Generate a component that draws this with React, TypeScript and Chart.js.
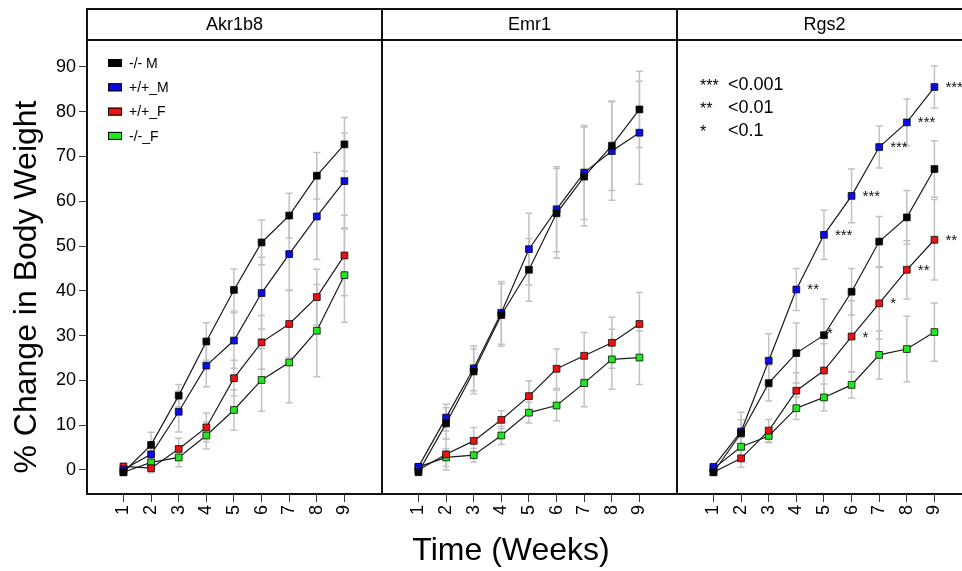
import React, { useEffect, useRef } from "react";
import { Chart, registerables } from "chart.js";

Chart.register(...registerables);

const FONT = '"Liberation Sans", Arial, Helvetica, sans-serif';

// ---------- data ----------
const weeks = [1, 2, 3, 4, 5, 6, 7, 8, 9];
const yTickValues = [0, 10, 20, 30, 40, 50, 60, 70, 80, 90];
const panelTitles = ["Akr1b8", "Emr1", "Rgs2"];
const seriesLabels = ["-/- M", "+/+_M", "+/+_F", "-/-_F"];
const seriesColors = ["#050505", "#0c0ce8", "#e81414", "#22e622"];

// Akr1b8
const akrKoM = [-0.5, 5.6, 16.6, 28.7, 40.2, 50.8, 56.8, 65.7, 72.7];
const akrKoMErr = [0.5, 2.8, 2.5, 4.2, 4.7, 5.0, 5.0, 5.2, 6.0];
const akrWtM = [0.1, 3.5, 13.0, 23.3, 28.9, 39.5, 48.2, 56.6, 64.5];
const akrWtMErr = [0.5, 1.5, 4.5, 4.7, 6.2, 8.0, 8.0, 9.6, 10.7];
const akrWtF = [0.8, 0.4, 4.7, 9.5, 20.5, 28.5, 32.6, 38.6, 47.9];
const akrWtFErr = [0.5, 1.0, 2.4, 3.2, 4.0, 6.0, 7.5, 6.2, 9.0];
const akrKoF = [-0.5, 1.7, 2.8, 7.7, 13.4, 20.1, 24.0, 31.1, 43.5];
const akrKoFErr = [0.5, 1.5, 2.1, 3.0, 4.5, 7.0, 9.0, 10.3, 10.5];

// Emr1
const emrKoM = [-0.5, 10.4, 22.0, 34.6, 44.7, 57.3, 65.5, 72.4, 80.5];
const emrKoMErr = [0.5, 3.5, 5.0, 7.0, 7.0, 10.0, 11.0, 10.0, 8.5];
const emrWtM = [0.7, 11.7, 22.7, 35.1, 49.3, 58.2, 66.4, 71.2, 75.3];
const emrWtMErr = [0.5, 3.0, 5.0, 7.0, 8.0, 9.5, 10.5, 11.0, 11.5];
const emrWtF = [0.0, 3.5, 6.5, 11.2, 16.5, 22.6, 25.5, 28.4, 32.6];
const emrWtFErr = [0.5, 3.5, 3.0, 2.0, 3.4, 4.4, 5.2, 5.7, 7.0];
const emrKoF = [0.7, 2.8, 3.3, 7.7, 12.8, 14.4, 19.4, 24.7, 25.1];
const emrKoFErr = [0.5, 2.0, 1.5, 2.0, 2.3, 3.4, 5.3, 6.7, 6.0];

// Rgs2
const rgsKoM = [-0.5, 8.2, 19.4, 26.1, 30.1, 39.8, 51.0, 56.4, 67.2];
const rgsKoMErr = [0.5, 3.0, 4.0, 6.7, 8.0, 5.2, 5.6, 6.0, 6.3];
const rgsWtM = [0.7, 8.6, 24.4, 40.3, 52.5, 61.2, 72.1, 77.6, 85.5];
const rgsWtMErr = [0.5, 4.3, 6.0, 4.7, 5.5, 6.0, 4.7, 5.2, 4.7];
const rgsWtF = [-0.5, 2.6, 8.8, 17.7, 22.2, 29.8, 37.2, 44.7, 51.4];
const rgsWtFErr = [0.5, 2.0, 2.5, 4.0, 6.0, 8.0, 8.0, 6.5, 9.0];
const rgsKoF = [0.3, 5.2, 7.6, 13.8, 16.2, 19.0, 25.7, 27.0, 30.8];
const rgsKoFErr = [0.5, 2.0, 1.5, 2.5, 3.0, 3.0, 5.4, 7.3, 6.5];

const rgsKoMStars = ["", "", "", "", "*", "", "", "", ""];
const rgsWtMStars = ["", "", "", "**", "***", "***", "***", "***", "***"];
const rgsWtFStars = ["", "", "", "", "", "*", "*", "**", "**"];
const rgsKoFStars = ["", "", "", "", "", "", "", "", ""];

const sigStars = ["***", "**", "*"];
const sigLabels = ["<0.001", "<0.01", "<0.1"];

const xTitle = "Time (Weeks)";
const yTitle = "% Change in Body Weight";

// ---------- panels ----------
const panelValues = [
  [akrKoM, akrWtM, akrWtF, akrKoF],
  [emrKoM, emrWtM, emrWtF, emrKoF],
  [rgsKoM, rgsWtM, rgsWtF, rgsKoF],
];
const panelErrors = [
  [akrKoMErr, akrWtMErr, akrWtFErr, akrKoFErr],
  [emrKoMErr, emrWtMErr, emrWtFErr, emrKoFErr],
  [rgsKoMErr, rgsWtMErr, rgsWtFErr, rgsKoFErr],
];
const panelStars: (string[][] | null)[] = [
  null,
  null,
  [rgsKoMStars, rgsWtMStars, rgsWtFStars, rgsKoFStars],
];

const CANVAS_W = 980;
const CANVAS_H = 571;
const PANEL_EDGES = [87, 382, 677, 972];
const PLOT_TOP = 40;
const PLOT_BOTTOM = 494;
const HEADER_TOP = 9;

const errorBarsPlugin = {
  id: "errorBars",
  beforeDatasetsDraw(chart: any) {
    const ctx = chart.ctx;
    const yScale = chart.scales.y;
    ctx.save();
    ctx.strokeStyle = "#c2c2c2";
    ctx.lineWidth = 1.5;
    chart.data.datasets.forEach((ds: any, i: number) => {
      const meta = chart.getDatasetMeta(i);
      if (!ds.errors) return;
      meta.data.forEach((pt: any, j: number) => {
        const v = ds.data[j].y;
        const e = ds.errors[j];
        const top = yScale.getPixelForValue(v + e);
        const bot = yScale.getPixelForValue(v - e);
        const x = pt.x;
        ctx.beginPath();
        ctx.moveTo(x, top);
        ctx.lineTo(x, bot);
        ctx.moveTo(x - 3.5, top);
        ctx.lineTo(x + 3.5, top);
        ctx.moveTo(x - 3.5, bot);
        ctx.lineTo(x + 3.5, bot);
        ctx.stroke();
      });
    });
    ctx.restore();
  },
};

const starsPlugin = {
  id: "stars",
  afterDatasetsDraw(chart: any) {
    const ctx = chart.ctx;
    ctx.save();
    ctx.fillStyle = "#111";
    ctx.font = `15px ${FONT}`;
    ctx.textAlign = "left";
    ctx.textBaseline = "alphabetic";
    chart.data.datasets.forEach((ds: any, i: number) => {
      if (!ds.stars) return;
      const meta = chart.getDatasetMeta(i);
      meta.data.forEach((pt: any, j: number) => {
        const s = ds.stars[j];
        if (!s) return;
        ctx.fillText(s, pt.x + ds.starDx, pt.y + ds.starDy);
      });
    });
    ctx.restore();
  },
};

const framePlugin = {
  id: "frame",
  afterDraw(chart: any, _args: any, opts: any) {
    const ctx = chart.ctx;
    const a = chart.chartArea;
    ctx.save();
    ctx.strokeStyle = "#111";
    ctx.lineWidth = 2;
    ctx.strokeRect(a.left, a.top, a.right - a.left, a.bottom - a.top);
    ctx.strokeRect(a.left, HEADER_TOP, a.right - a.left, a.top - HEADER_TOP);
    ctx.fillStyle = "#000";
    ctx.font = `18px ${FONT}`;
    ctx.textAlign = "center";
    ctx.textBaseline = "middle";
    ctx.fillText(opts.title, (a.left + a.right) / 2, (HEADER_TOP + a.top) / 2 + 1);
    ctx.restore();
  },
};

const seriesKeyPlugin = {
  id: "seriesKey",
  afterDraw(chart: any) {
    const ctx = chart.ctx;
    const a = chart.chartArea;
    ctx.save();
    ctx.font = `14px ${FONT}`;
    ctx.textAlign = "left";
    ctx.textBaseline = "middle";
    chart.data.datasets.forEach((ds: any, i: number) => {
      const cy = a.top + 23 + i * 24.3;
      const bx = a.left + 21;
      ctx.fillStyle = ds.pointBackgroundColor;
      ctx.fillRect(bx, cy - 4, 14, 8);
      ctx.strokeStyle = "#000";
      ctx.lineWidth = 1;
      ctx.strokeRect(bx + 0.5, cy - 3.5, 13, 7);
      ctx.fillStyle = "#000";
      ctx.fillText(ds.label, bx + 21, cy + 1);
    });
    ctx.restore();
  },
};

const sigKeyPlugin = {
  id: "sigKey",
  afterDraw(chart: any) {
    const ctx = chart.ctx;
    const a = chart.chartArea;
    ctx.save();
    ctx.fillStyle = "#000";
    ctx.textAlign = "left";
    ctx.textBaseline = "alphabetic";
    sigStars.forEach((s, i) => {
      const base = a.top + 50 + i * 23;
      ctx.font = `16px ${FONT}`;
      ctx.fillText(s, a.left + 23, base + 1);
      ctx.font = `18px ${FONT}`;
      ctx.fillText(sigLabels[i], a.left + 51, base);
    });
    ctx.restore();
  },
};

function buildChart(canvas: HTMLCanvasElement, p: number) {
  const datasets = panelValues[p].map((vals, i) => ({
    label: seriesLabels[i],
    data: weeks.map((w, j) => ({ x: w, y: vals[j] })),
    errors: panelErrors[p][i],
    stars: panelStars[p] ? panelStars[p]![i] : null,
    starDx: i === 0 ? 3 : 11,
    starDy: i === 0 ? 3 : 5,
    borderColor: "#1a1a1a",
    borderWidth: 1.2,
    pointStyle: "rect",
    pointRadius: 4.8,
    pointBackgroundColor: seriesColors[i],
    pointBorderColor: "rgba(0,0,0,0.75)",
    pointBorderWidth: 1,
    fill: false,
    tension: 0,
  }));

  const extra: any[] = [errorBarsPlugin, starsPlugin, framePlugin];
  if (p === 0) extra.push(seriesKeyPlugin);
  if (p === 2) extra.push(sigKeyPlugin);

  return new Chart(canvas, {
    type: "line",
    data: { datasets } as any,
    plugins: extra,
    options: {
      responsive: false,
      animation: false,
      events: [],
      layout: {
        padding: {
          top: PLOT_TOP,
          bottom: 0,
          left: p === 0 ? 0 : PANEL_EDGES[p],
          right: CANVAS_W - PANEL_EDGES[p + 1],
        },
      },
      plugins: {
        legend: { display: false },
        tooltip: { enabled: false },
        frame: { title: panelTitles[p] },
      } as any,
      scales: {
        x: {
          type: "linear",
          min: -0.32,
          max: 10.36,
          afterBuildTicks: (s: any) => {
            s.ticks = weeks.map((w) => ({ value: w }));
          },
          afterFit: (s: any) => {
            s.height = CANVAS_H - PLOT_BOTTOM;
          },
          ticks: {
            autoSkip: false,
            minRotation: 90,
            maxRotation: 90,
            padding: 3,
            color: "#000",
            font: { size: 18, family: FONT },
            callback: (v: any) => String(v),
          },
          grid: {
            drawOnChartArea: false,
            drawTicks: true,
            tickLength: 8,
            color: "#333",
            lineWidth: 1,
          },
          border: { display: false },
        },
        y: {
          type: "linear",
          display: p === 0,
          min: -5.36,
          max: 96,
          afterBuildTicks: (s: any) => {
            s.ticks = yTickValues.map((v) => ({ value: v }));
          },
          afterFit: (s: any) => {
            s.width = p === 0 ? PANEL_EDGES[0] : 0;
          },
          ticks: {
            padding: 3,
            color: "#000",
            font: { size: 18, family: FONT },
            callback: (v: any) => String(v),
          },
          grid: {
            drawOnChartArea: false,
            drawTicks: true,
            tickLength: 8,
            color: "#333",
            lineWidth: 1,
          },
          border: { display: false },
        },
      },
    } as any,
  });
}

export default function App() {
  const r0 = useRef<HTMLCanvasElement>(null);
  const r1 = useRef<HTMLCanvasElement>(null);
  const r2 = useRef<HTMLCanvasElement>(null);

  useEffect(() => {
    const charts = [r0, r1, r2].map((r, p) => buildChart(r.current!, p));
    return () => charts.forEach((c) => c.destroy());
  }, []);

  const canvasStyle: React.CSSProperties = {
    position: "absolute",
    left: 0,
    top: 0,
    width: CANVAS_W,
    height: CANVAS_H,
  };

  return (
    <div
      style={{
        position: "absolute",
        left: 0,
        top: 0,
        width: 962,
        height: 571,
        overflow: "hidden",
        background: "#fff",
        fontFamily: FONT,
      }}
    >
      <canvas ref={r0} width={CANVAS_W} height={CANVAS_H} style={canvasStyle} />
      <canvas ref={r1} width={CANVAS_W} height={CANVAS_H} style={canvasStyle} />
      <canvas ref={r2} width={CANVAS_W} height={CANVAS_H} style={canvasStyle} />
      <div
        style={{
          position: "absolute",
          left: 25 - 220,
          top: 287 - 18,
          width: 440,
          height: 36,
          lineHeight: "36px",
          fontSize: 32,
          textAlign: "center",
          color: "#000",
          whiteSpace: "nowrap",
          transform: "rotate(-90deg)",
          transformOrigin: "50% 50%",
        }}
      >
        {yTitle}
      </div>
      <div
        style={{
          position: "absolute",
          left: 311,
          top: 533,
          width: 400,
          height: 32,
          lineHeight: "32px",
          fontSize: 32,
          textAlign: "center",
          color: "#000",
          whiteSpace: "nowrap",
        }}
      >
        {xTitle}
      </div>
    </div>
  );
}
